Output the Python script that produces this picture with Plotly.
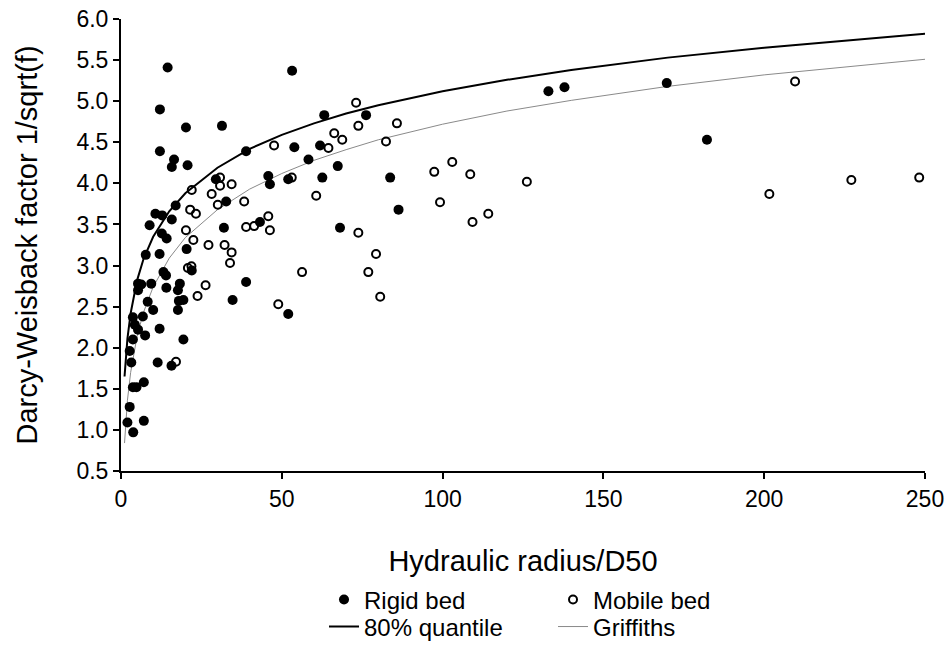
import plotly.graph_objects as go

# Rigid bed observations (Hydraulic radius/D50, 1/sqrt(f))
rigid_x = [14.5, 12.1, 20.2, 31.4, 12.1, 16.5, 15.8, 20.7, 29.5, 32.7, 17.0, 10.7, 12.8, 15.8, 8.9,
           32.0, 12.7, 14.2, 20.4, 7.7, 12.0, 13.2, 14.0, 5.3, 6.3, 5.3, 9.4, 14.1, 18.3, 17.7,
           22.0, 8.3, 18.0, 19.4, 17.7, 10.0, 34.7, 3.7, 6.8, 4.3, 5.3, 12.0, 7.5, 3.7, 19.4,
           2.7, 3.2, 11.4, 15.7, 3.7, 4.8, 7.1, 2.7, 2.0, 7.1, 3.8, 53.2, 63.2, 76.2, 38.9,
           53.9, 61.9, 58.3, 67.4, 45.8, 46.3, 52.0, 62.6, 83.7, 86.3, 43.2, 68.1, 38.9, 52.0,
           132.9, 137.9, 169.7, 182.2]
rigid_y = [5.41, 4.90, 4.68, 4.70, 4.39, 4.29, 4.20, 4.22, 4.05, 3.78, 3.73, 3.63, 3.61, 3.56, 3.49,
           3.46, 3.39, 3.33, 3.20, 3.13, 3.14, 2.92, 2.88, 2.78, 2.77, 2.70, 2.78, 2.73, 2.78, 2.70,
           2.94, 2.56, 2.57, 2.58, 2.46, 2.46, 2.58, 2.37, 2.38, 2.28, 2.22, 2.23, 2.15, 2.10, 2.10,
           1.96, 1.82, 1.82, 1.78, 1.52, 1.52, 1.58, 1.28, 1.09, 1.11, 0.97, 5.37, 4.83, 4.83, 4.39,
           4.44, 4.46, 4.29, 4.21, 4.09, 3.99, 4.05, 4.07, 4.07, 3.68, 3.53, 3.46, 2.80, 2.41,
           5.12, 5.17, 5.22, 4.53]

# Mobile bed observations
mobile_x = [30.8, 22.0, 28.2, 30.8, 34.4, 30.1, 21.5, 23.3, 20.2, 22.5, 27.2, 32.2, 34.4, 33.9,
            20.8, 21.9, 26.3, 23.8, 17.1, 73.1, 73.8, 85.8, 47.6, 64.5, 66.3, 68.8, 82.4, 53.1,
            60.7, 38.3, 45.8, 38.9, 41.4, 46.3, 73.8, 56.3, 79.3, 76.9, 80.6, 48.9, 97.4, 103.0,
            108.6, 126.2, 99.2, 114.2, 109.3, 209.6, 201.6, 227.1, 248.2]
mobile_y = [4.07, 3.92, 3.87, 3.97, 3.99, 3.74, 3.68, 3.63, 3.43, 3.31, 3.25, 3.25, 3.16, 3.03,
            2.97, 2.99, 2.76, 2.63, 1.83, 4.98, 4.70, 4.73, 4.46, 4.43, 4.61, 4.53, 4.51, 4.07,
            3.85, 3.78, 3.60, 3.47, 3.48, 3.43, 3.40, 2.92, 3.14, 2.92, 2.62, 2.53, 4.14, 4.26,
            4.11, 4.02, 3.77, 3.63, 3.53, 5.24, 3.87, 4.04, 4.07]

# Curves
curve_x = [1.1, 2, 3, 5, 7, 10, 15, 20, 30, 40, 50, 60, 70, 80, 100, 120, 140, 170, 200, 250]
q80_y = [1.65, 2.11, 2.42, 2.82, 3.08, 3.35, 3.66, 3.88, 4.19, 4.42, 4.59, 4.73, 4.85, 4.95,
         5.12, 5.26, 5.38, 5.53, 5.65, 5.82]
griffiths_y = [0.84, 1.36, 1.70, 2.14, 2.43, 2.74, 3.09, 3.34, 3.68, 3.93, 4.12, 4.28, 4.41, 4.53,
               4.72, 4.88, 5.01, 5.18, 5.32, 5.51]

x_ticks = [0, 50, 100, 150, 200, 250]
y_ticks = [0.5, 1.0, 1.5, 2.0, 2.5, 3.0, 3.5, 4.0, 4.5, 5.0, 5.5, 6.0]

FONT = "Liberation Sans, Arial, sans-serif"

fig = go.Figure()
fig.add_trace(go.Scatter(x=curve_x, y=q80_y, mode="lines", name="80% quantile",
                         line=dict(color="black", width=2), legend="legend2"))
fig.add_trace(go.Scatter(x=curve_x, y=griffiths_y, mode="lines", name="Griffiths",
                         line=dict(color="#8a8a8a", width=1), legend="legend2"))
fig.add_trace(go.Scatter(x=rigid_x, y=rigid_y, mode="markers", name="Rigid bed",
                         marker=dict(symbol="circle", size=10, color="black"), legend="legend"))
fig.add_trace(go.Scatter(x=mobile_x, y=mobile_y, mode="markers", name="Mobile bed",
                         marker=dict(symbol="circle-open", size=8, color="black",
                                     line=dict(width=2, color="black")), legend="legend"))

axis_common = dict(showline=True, linecolor="black", linewidth=2, ticks="outside",
                   ticklen=6, tickwidth=2, tickcolor="black", showgrid=False, zeroline=False,
                   automargin=False, ticklabeloverflow="allow",
                   tickfont=dict(family=FONT, size=23, color="black"))

fig.update_layout(
    width=952, height=652,
    margin=dict(l=121, r=27, t=19, b=181, autoexpand=False),
    paper_bgcolor="white", plot_bgcolor="white",
    font=dict(family=FONT, color="black"),
    xaxis=dict(range=[0, 250], tickvals=x_ticks, ticktext=[str(v) for v in x_ticks],
               title=dict(text="Hydraulic radius/D50", font=dict(family=FONT, size=29),
                          standoff=40), **axis_common),
    yaxis=dict(range=[0.5, 6.0], tickvals=y_ticks, ticktext=[f"{v:.1f}" for v in y_ticks],
               title=dict(text="Darcy-Weisback factor 1/sqrt(f)", font=dict(family=FONT, size=29),
                          standoff=30), **axis_common),
    legend=dict(orientation="h", x=0.2525, xanchor="left", y=-0.285, yanchor="middle",
                font=dict(family=FONT, size=24), entrywidth=184, entrywidthmode="pixels",
                bgcolor="rgba(0,0,0,0)", itemwidth=30),
    legend2=dict(orientation="h", x=0.2525, xanchor="left", y=-0.345, yanchor="middle",
                 font=dict(family=FONT, size=24), entrywidth=184, entrywidthmode="pixels",
                 bgcolor="rgba(0,0,0,0)", itemwidth=30),
)

# Remove the browser's default 8px body margin so the figure fills the window exactly.
fig.write_html("out.html", config={"displayModeBar": False},
               post_script="document.body.style.margin='0';document.body.style.overflow='hidden';")
